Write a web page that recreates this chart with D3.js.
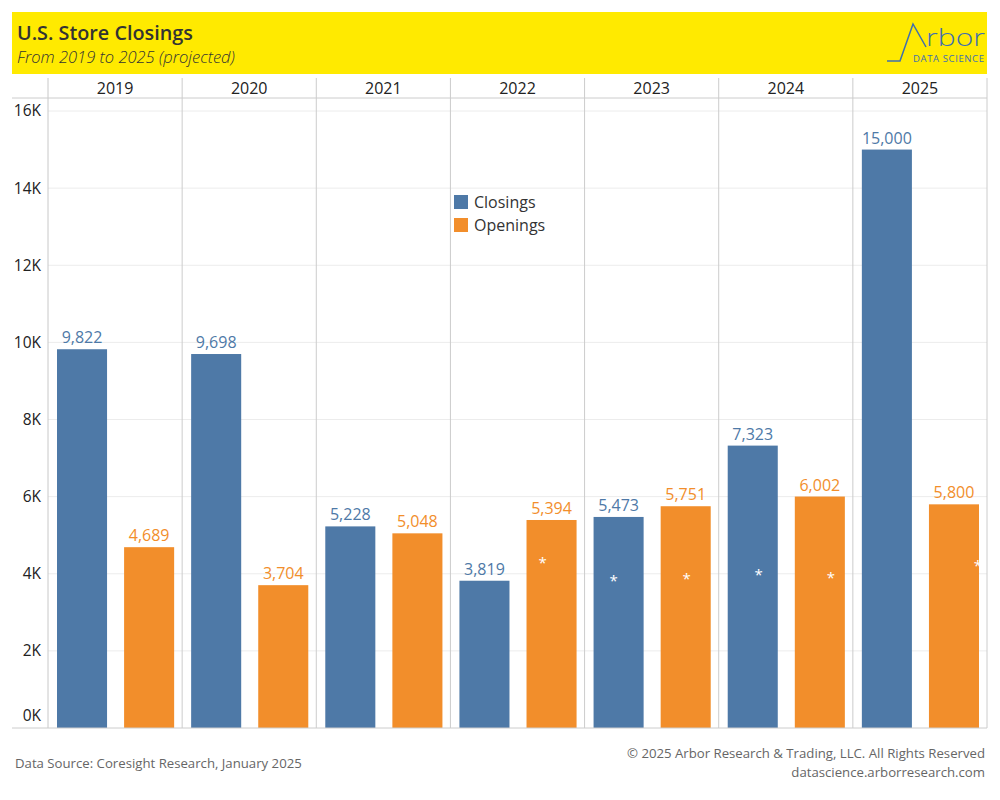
<!DOCTYPE html>
<html>
<head>
<meta charset="utf-8">
<script src="https://cdn.jsdelivr.net/npm/d3@7"></script>
<style>
  body { margin: 0; background: #fff; }
  text { font-family: "Open Sans", "Noto Sans", sans-serif; }
</style>
</head>
<body>
<div id="chart"></div>
<script>
// Data
const years = ["2019", "2020", "2021", "2022", "2023", "2024", "2025"];
const series = ["Closings", "Openings"];
const closings = [9822, 9698, 5228, 3819, 5473, 7323, 15000];
const openings = [4689, 3704, 5048, 5394, 5751, 6002, 5800];
const yTicks = [0, 2000, 4000, 6000, 8000, 10000, 12000, 14000, 16000];
// the stray white asterisks inside some bars: year, series, height, shift across bar
const stars = [
  { year: "2022", s: "Openings", v: 4300, dx: -0.18 },
  { year: "2023", s: "Closings", v: 3830, dx: -0.1 },
  { year: "2023", s: "Openings", v: 3880, dx: 0.02 },
  { year: "2024", s: "Closings", v: 3990, dx: 0.12 },
  { year: "2024", s: "Openings", v: 3910, dx: 0.22 },
  { year: "2025", s: "Openings", v: 4220, dx: 0.48 }
];

const width = 1000, height = 800;
const blue = "#4e79a7", orange = "#f28e2b";
const color = d3.scaleOrdinal().domain(series).range([blue, orange]);

const svg = d3.select("#chart").append("svg")
  .attr("width", width)
  .attr("height", height);

// Title banner
svg.append("rect")
  .attr("x", 12).attr("y", 12)
  .attr("width", 975).attr("height", 62)
  .attr("fill", "#ffea00");

svg.append("text")
  .attr("x", 17).attr("y", 40)
  .attr("font-size", 19.8)
  .attr("font-weight", 600)
  .attr("fill", "#333")
  .text("U.S. Store Closings");

svg.append("text")
  .attr("x", 17).attr("y", 63)
  .attr("font-size", 16.5)
  .attr("font-style", "italic")
  .attr("font-weight", 300)
  .attr("fill", "#333")
  .text("From 2019 to 2025 (projected)");

// Logo
const logoBlue = "#3f6fae";
svg.append("path")
  .attr("d", "M887,61 L900,61 L913,24 L926,47")
  .attr("fill", "none")
  .attr("stroke", logoBlue)
  .attr("stroke-width", 1.5);
svg.append("text")
  .attr("x", 926).attr("y", 46)
  .attr("font-size", 24)
  .attr("font-weight", 300)
  .attr("fill", logoBlue)
  .attr("textLength", 59)
  .attr("lengthAdjust", "spacingAndGlyphs")
  .text("rbor");
svg.append("text")
  .attr("x", 913).attr("y", 62)
  .attr("font-size", 9.5)
  .attr("fill", logoBlue)
  .attr("textLength", 71)
  .text("DATA SCIENCE");

// Scales
const plotLeft = 48, plotRight = 987, plotTop = 98, plotBottom = 728;
const x0 = d3.scaleBand().domain(years).range([plotLeft, plotRight]).padding(0);
const x1 = d3.scaleBand().domain(series).range([9, x0.bandwidth() - 8])
  .paddingInner(0.254).paddingOuter(0);
const y = d3.scaleLinear().domain([0, 16000]).range([plotBottom, 111]);

// Gridlines
svg.append("g")
  .selectAll("line")
  .data(yTicks.slice(1))
  .join("line")
  .attr("x1", plotLeft).attr("x2", plotRight)
  .attr("y1", d => y(d)).attr("y2", d => y(d))
  .attr("stroke", "#ececec");

// Panel separators
const seps = years.slice(1).map(d => x0(d)).concat([plotRight]);
svg.append("g")
  .selectAll("line")
  .data(seps)
  .join("line")
  .attr("x1", d => d).attr("x2", d => d)
  .attr("y1", 78).attr("y2", plotBottom)
  .attr("stroke", "#cccccc");

svg.append("line")
  .attr("x1", plotLeft).attr("x2", plotLeft)
  .attr("y1", 78).attr("y2", plotBottom)
  .attr("stroke", "#c8c8c8");

svg.append("line")
  .attr("x1", 12).attr("x2", plotRight)
  .attr("y1", plotTop).attr("y2", plotTop)
  .attr("stroke", "#cccccc");

// Year headers
svg.append("g")
  .selectAll("text")
  .data(years)
  .join("text")
  .attr("x", d => x0(d) + x0.bandwidth() / 2)
  .attr("y", 94)
  .attr("text-anchor", "middle")
  .attr("font-size", 16)
  .attr("fill", "#222")
  .text(d => d);

// Y axis labels
svg.append("g")
  .selectAll("text")
  .data(yTicks)
  .join("text")
  .attr("x", 41)
  .attr("y", d => d === 0 ? y(d) - 12 : y(d))
  .attr("dy", "0.35em")
  .attr("text-anchor", "end")
  .attr("font-size", 15.5)
  .attr("fill", "#222")
  .text(d => d3.format("d")(d / 1000) + "K");

// Bars
const rows = years.map((yr, i) => ({ year: yr, values: [
  { s: "Closings", v: closings[i] },
  { s: "Openings", v: openings[i] }
]}));

const groups = svg.append("g")
  .selectAll("g")
  .data(rows)
  .join("g")
  .attr("transform", d => `translate(${x0(d.year)},0)`);

groups.selectAll("rect")
  .data(d => d.values)
  .join("rect")
  .attr("x", d => x1(d.s))
  .attr("y", d => y(d.v))
  .attr("width", x1.bandwidth())
  .attr("height", d => y(0) - y(d.v))
  .attr("fill", d => color(d.s));

groups.selectAll("text.val")
  .data(d => d.values)
  .join("text")
  .attr("class", "val")
  .attr("x", d => x1(d.s) + x1.bandwidth() / 2)
  .attr("y", d => y(d.v) - 6)
  .attr("text-anchor", "middle")
  .attr("font-size", 16)
  .attr("fill", d => color(d.s))
  .text(d => d3.format(",")(d.v));

// Asterisks
svg.append("g")
  .selectAll("text")
  .data(stars)
  .join("text")
  .attr("x", d => x0(d.year) + x1(d.s) + x1.bandwidth() * (0.5 + d.dx))
  .attr("y", d => y(d.v) + 6)
  .attr("text-anchor", "middle")
  .attr("font-size", 15)
  .attr("fill", "#fff")
  .text("*");

// Bottom axis line
svg.append("line")
  .attr("x1", 12).attr("x2", plotRight)
  .attr("y1", plotBottom).attr("y2", plotBottom)
  .attr("stroke", "#cccccc");

// Legend
const legend = svg.append("g")
  .selectAll("g")
  .data(series)
  .join("g")
  .attr("transform", (d, i) => `translate(454,${195 + i * 23})`);
legend.append("rect")
  .attr("width", 14).attr("height", 14)
  .attr("fill", d => color(d));
legend.append("text")
  .attr("x", 20).attr("y", 13)
  .attr("font-size", 16)
  .attr("fill", "#333")
  .text(d => d);

// Footer
svg.append("text")
  .attr("x", 15).attr("y", 768)
  .attr("font-size", 13.2)
  .attr("fill", "#666")
  .text("Data Source: Coresight Research, January 2025");

svg.append("text")
  .attr("x", 985).attr("y", 758)
  .attr("text-anchor", "end")
  .attr("font-size", 13.2)
  .attr("fill", "#666")
  .text("© 2025 Arbor Research & Trading, LLC. All Rights Reserved");

svg.append("text")
  .attr("x", 985).attr("y", 777)
  .attr("text-anchor", "end")
  .attr("font-size", 13.2)
  .attr("fill", "#666")
  .text("datascience.arborresearch.com");
</script>
</body>
</html>
